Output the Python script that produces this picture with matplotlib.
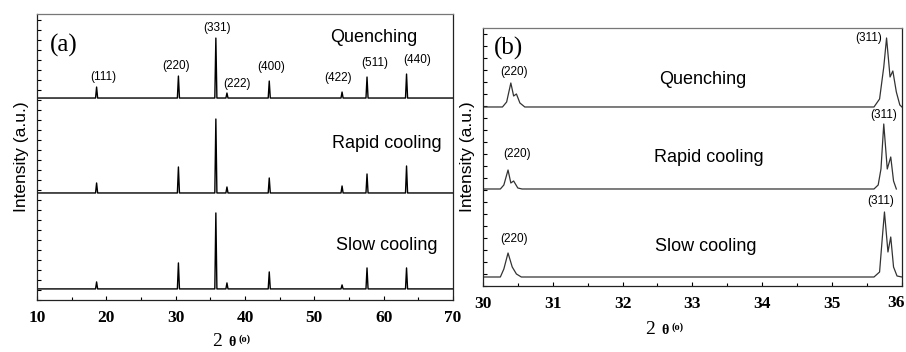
import numpy as np
import matplotlib.pyplot as plt
from matplotlib.ticker import MultipleLocator

# ---- panel (a): wide scan 10-70 deg, peak positions and heights above each baseline
hkl_a = ['(111)', '(220)', '(331)', '(222)', '(400)', '(422)', '(511)', '(440)']
pos_a = [18.6, 30.4, 35.8, 37.4, 43.5, 54.0, 57.6, 63.3]
quench_a = [11, 22, 60, 5, 17, 6, 21, 24]
rapid_a = [10, 26, 74, 6, 15, 7, 19, 27]
slow_a = [7, 26, 76, 6, 17, 4, 21, 21]
names = ['Quenching', 'Rapid cooling', 'Slow cooling']

# ---- panel (b): zoom 30-36 deg, traces read as vertices (x, height above baseline)
quench_bx = [30.0, 30.28, 30.34, 30.40, 30.44, 30.48, 30.53, 30.60, 35.60, 35.68, 35.74, 35.78, 35.83, 35.87, 35.92, 35.97, 36.0]
quench_by = [0, 0, 5, 24, 11, 13, 4, 0, 0, 8, 40, 69, 30, 36, 15, 2, 0]
rapid_bx = [30.0, 30.25, 30.30, 30.36, 30.40, 30.44, 30.50, 30.56, 35.60, 35.66, 35.70, 35.74, 35.79, 35.84, 35.88, 35.92]
rapid_by = [0, 0, 4, 19, 6, 8, 1, 0, 0, 4, 20, 65, 20, 32, 8, 0]
slow_bx = [30.0, 30.25, 30.30, 30.36, 30.42, 30.48, 30.55, 35.60, 35.68, 35.72, 35.75, 35.80, 35.84, 35.88, 35.93, 36.0]
slow_by = [0, 0, 8, 24, 10, 3, 0, 0, 5, 40, 65, 25, 40, 10, 1, 0]
ticks_b = [30, 31, 32, 33, 34, 35, 36]

# layout (pixel-like data units)
base_a = [202, 107, 11]
base_b = [179, 97, 9]

sans = 'Liberation Sans'
serif = 'Liberation Serif'

fig = plt.figure(figsize=(9.06, 3.52), dpi=100)
ax1 = fig.add_axes([0.0408, 0.148, 0.4592, 0.812])
ax2 = fig.add_axes([0.533, 0.1875, 0.4625, 0.733])


def spike_line(pos, h, base):
    xs = [10.0]
    ys = [base]
    for p, v in zip(pos, h):
        xs += [p - 0.15, p, p + 0.15]
        ys += [base, base + v, base]
    xs.append(70.0)
    ys.append(base)
    return xs, ys


for vals, b in zip([quench_a, rapid_a, slow_a], base_a):
    xs, ys = spike_line(pos_a, vals, b)
    ax1.plot(xs, ys, color='black', lw=1.0)

# hkl labels above quenching peaks
dx_a = [0.9, -0.4, 0.2, 1.5, 0.3, -0.6, 1.1, 1.6]
dy_a = [10, 10, 10, 9, 14, 14, 14, 14]
for lab, p, v, dx, dy in zip(hkl_a, pos_a, quench_a, dx_a, dy_a):
    ax1.text(p + dx, base_a[0] + v + dy, lab, ha='center', va='center',
             fontsize=8.5, family=sans)

name_pos_a = [(58.5, 263), (60.4, 156), (60.4, 54)]
for n, (x, y) in zip(names, name_pos_a):
    ax1.text(x, y, n, ha='center', va='center', fontsize=13, family=sans)
ax1.text(13.8, 255, '(a)', ha='center', va='center', fontsize=18, family=serif)

ax1.set_xlim(10, 70)
ax1.set_ylim(0, 286)
ax1.xaxis.set_major_locator(MultipleLocator(10))
ax1.xaxis.set_minor_locator(MultipleLocator(5))
ax1.yaxis.set_major_locator(MultipleLocator(10))
ax1.set_yticklabels([])

for xs, ys, b in zip([quench_bx, rapid_bx, slow_bx], [quench_by, rapid_by, slow_by], base_b):
    ax2.plot(xs, [b + v for v in ys], color='#333333', lw=0.9)

lab_b = [(30.45, 214, '(220)'), (30.49, 132, '(220)'), (30.45, 47, '(220)'),
         (35.53, 248, '(311)'), (35.74, 171, '(311)'), (35.70, 85, '(311)')]
for x, y, t in lab_b:
    ax2.text(x, y, t, ha='center', va='center', fontsize=8.5, family=sans)
name_pos_b = [(33.15, 206), (33.23, 128), (33.19, 39)]
for n, (x, y) in zip(names, name_pos_b):
    ax2.text(x, y, n, ha='center', va='center', fontsize=13, family=sans)
ax2.text(30.37, 238, '(b)', ha='center', va='center', fontsize=18, family=serif)

ax2.set_xlim(30, 36)
ax2.set_ylim(0, 258)
# last label "36" is drawn by hand so it stays inside the figure edge
ax2.set_xticks(ticks_b, [str(t) for t in ticks_b[:-1]] + [''])
ax2.xaxis.set_minor_locator(MultipleLocator(0.5))
ax2.yaxis.set_major_locator(MultipleLocator(12))
ax2.set_yticklabels([])

for ax in (ax1, ax2):
    ax.tick_params(direction='in', length=3, width=0.8, labelsize=12.5, pad=7)
    ax.tick_params(which='minor', direction='in', length=2, width=0.8)
    for lab in ax.get_xticklabels():
        lab.set_family(serif)
        lab.set_fontweight('bold')
    for s in ax.spines.values():
        s.set_linewidth(0.9)
        s.set_color('#222222')
    ax.spines['top'].set_color('#777777')
    ax.set_ylabel('Intensity (a.u.)', fontsize=12.5, family=sans, labelpad=-1)

fig.text(905 / 906, 1 - 303 / 352, str(ticks_b[-1]), ha='right', va='center',
         fontsize=12.5, family=serif, fontweight='bold')

# x labels "2 θ (o)"
for cx, cy in [(217, 342), (650, 330)]:
    fig.text(cx / 906, 1 - cy / 352, '2', ha='center', va='center', fontsize=14, family=serif)
    fig.text((cx + 15) / 906, 1 - (cy + 1) / 352, 'θ', ha='center', va='center', fontsize=10, family=serif, fontweight='bold')
    fig.text((cx + 28) / 906, 1 - (cy - 3) / 352, '(o)', ha='center', va='center', fontsize=7.5, family=serif, fontweight='bold')

fig.savefig('out.png', dpi=100)
